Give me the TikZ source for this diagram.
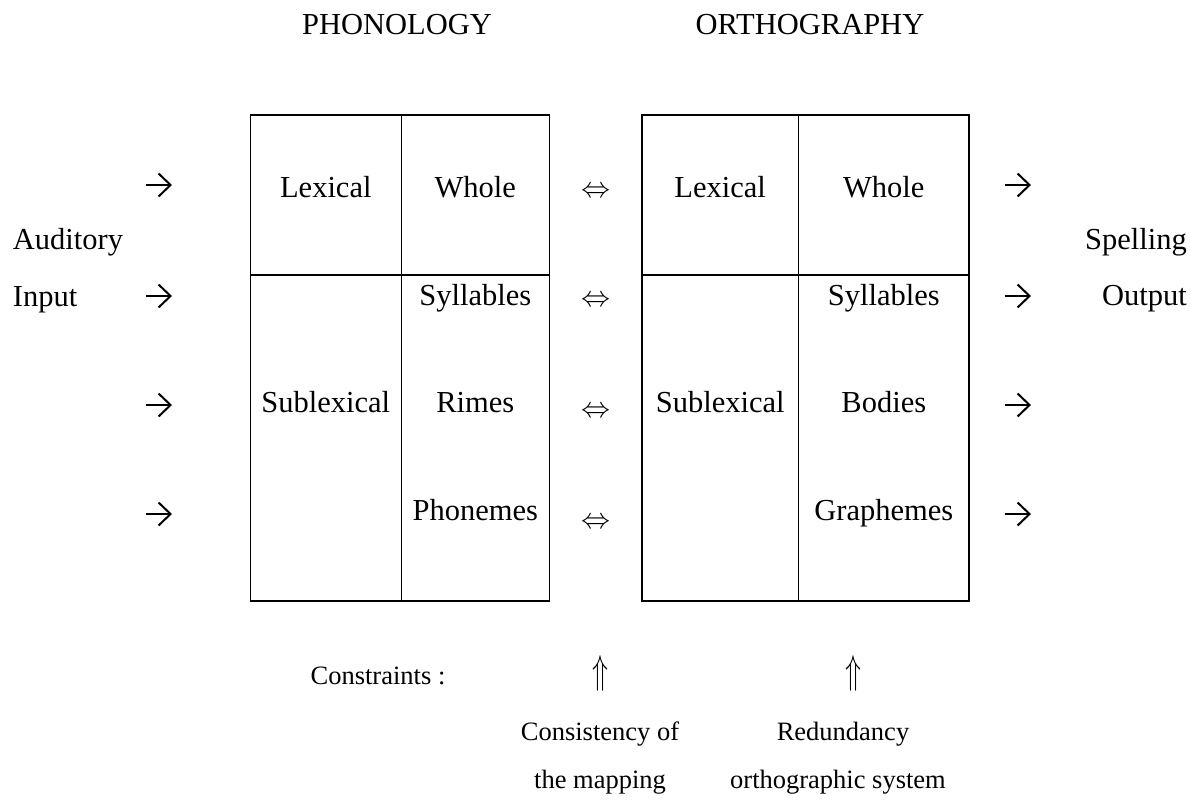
\documentclass[tikz,border=0pt]{standalone}
\usepackage{fontspec}
\usepackage{graphicx}
\setmainfont{Liberation Serif}
\usetikzlibrary{arrows.meta}
\newcommand{\dblarr}{\resizebox{29pt}{!}{$\Leftrightarrow$}}
\newcommand{\uparr}{\resizebox{16pt}{28pt}{$\Uparrow$}}
\begin{document}
\begin{tikzpicture}[x=1pt,y=-1pt,
  lbl/.style={inner sep=0pt,anchor=base,font=\fontsize{30.5}{36}\selectfont},
  small/.style={inner sep=0pt,anchor=base,font=\fontsize{26.5}{32}\selectfont},
  sym/.style={inner sep=0pt,anchor=center},
  wdarrow/.style={line width=2pt,-{Straight Barb[length=12pt,width=23pt,line width=2pt]}},
  grid/.style={line width=1.6pt,line join=miter}]
\useasboundingbox (0,0) rectangle (1191,801);
% headings
\node[lbl] (phon) at (397,34.3) {PHONOLOGY};
\node[lbl] (orth) at (810,34.3) {ORTHOGRAPHY};
% left box
\coordinate (L1) at (250.4,115);
\coordinate (L2) at (549.3,600.7);
\draw[grid] (L1) rectangle (L2);
\draw[grid] (401.3,115) -- (401.3,600.7);
\draw[grid] (250.4,275) -- (549.3,275);
% right box
\coordinate (R1) at (641.8,115);
\coordinate (R2) at (969,600.7);
\draw[grid] (R1) rectangle (R2);
\draw[grid] (798.6,115) -- (798.6,600.7);
\draw[grid] (641.8,275) -- (969,275);
% left box texts
\node[lbl] (plex) at (325.8,197) {Lexical};
\node[lbl] (pwho) at (475.3,197) {Whole};
\node[lbl] (psub) at (325.8,412) {Sublexical};
\node[lbl] (psyl) at (475.3,305.5) {Syllables};
\node[lbl] (prim) at (475.3,412) {Rimes};
\node[lbl] (ppho) at (475.3,520.6) {Phonemes};
% right box texts
\node[lbl] (olex) at (720.2,197) {Lexical};
\node[lbl] (owho) at (883.8,197) {Whole};
\node[lbl] (osub) at (720.2,412) {Sublexical};
\node[lbl] (osyl) at (883.8,305.5) {Syllables};
\node[lbl] (obod) at (883.8,412) {Bodies};
\node[lbl] (ogra) at (883.8,520.6) {Graphemes};
% double arrows between boxes
\node[sym] (d1) at (595.5,192) {\dblarr};
\node[sym] (d2) at (595.5,301) {\dblarr};
\node[sym] (d3) at (595.5,412) {\dblarr};
\node[sym] (d4) at (595.5,523) {\dblarr};
% input side
\node[lbl,anchor=base west] (aud) at (12.7,249) {Auditory};
\node[lbl,anchor=base west] (inp) at (12.7,306) {Input};
\foreach \i/\y in {1/185,2/296,3/405,4/514}{
  \coordinate (ia\i s) at (145.5,\y);
  \coordinate (ia\i e) at (172,\y);
  \draw[wdarrow] (ia\i s) -- (ia\i e);
  \coordinate (oa\i s) at (1004.5,\y);
  \coordinate (oa\i e) at (1031,\y);
  \draw[wdarrow] (oa\i s) -- (oa\i e);
}
% output side
\node[lbl,anchor=base east] (spe) at (1187,249) {Spelling};
\node[lbl,anchor=base east] (out) at (1187,305) {Output};
% constraints
\node[small] (con) at (378,684) {Constraints :};
\node[sym] (u1) at (600.5,673.5) {\uparr};
\node[sym] (u2) at (853,673.5) {\uparr};
\node[small] (cons1) at (600,740) {Consistency of};
\node[small] (cons2) at (600,788) {the mapping};
\node[small] (red1) at (843,740) {Redundancy};
\node[small] (red2) at (838,788) {orthographic system};
\end{tikzpicture}
\end{document}
